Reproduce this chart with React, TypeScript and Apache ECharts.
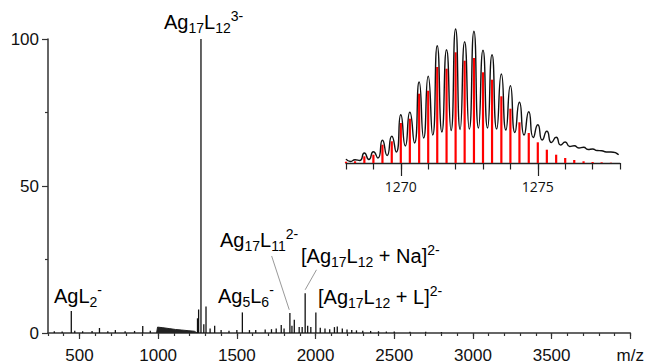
import React, { useEffect, useRef } from "react";
import * as echarts from "echarts";

// Main spectrum: stick peaks (m/z, relative intensity %)
const mainMz = [340, 390, 448, 470, 520, 580, 627, 680, 728, 790, 850, 902, 950, 1250, 1257, 1272, 1290, 1304, 1330, 1359, 1400, 1450, 1500, 1535, 1580, 1620, 1680, 1720, 1750, 1782, 1800, 1837, 1850, 1865, 1896, 1915, 1934, 1950, 1970, 2002, 2030, 2060, 2090, 2120, 2138, 2170, 2200, 2230, 2260, 2300, 2350, 2400, 2450, 2500, 2600, 2700, 2800];
const mainInt = [0.6, 0.5, 7.5, 0.8, 0.6, 0.7, 1.7, 0.6, 1.0, 0.6, 0.7, 2.4, 0.8, 5, 8, 100, 3, 9, 1.5, 2.5, 1, 0.8, 1, 7, 1, 1, 1.2, 1.3, 1.5, 2.7, 1.5, 6.8, 2.5, 4.5, 2, 2, 13.5, 2.5, 2, 7, 1.8, 1.5, 1.3, 2, 2.2, 1.5, 1.2, 1.0, 0.9, 0.8, 0.7, 0.6, 0.5, 0.5, 0.4, 0.4, 0.3];

// Raised baseline hump between 1000 and 1250
const humpMz = [990, 996, 1030, 1070, 1110, 1150, 1190, 1230, 1248];
const humpInt = [0, 2.0, 1.8, 1.5, 1.2, 1.0, 0.8, 0.6, 0];

// Main axis ticks
const mainMajorTicks = [500, 1000, 1500, 2000, 2500, 3000, 3500, 4000];

// Inset: isotope pattern of Ag17L12 3-
const insetMz = [1268.0, 1268.33, 1268.67, 1269.0, 1269.33, 1269.67, 1270.0, 1270.33, 1270.67, 1271.0, 1271.33, 1271.67, 1272.0, 1272.33, 1272.67, 1273.0, 1273.33, 1273.67, 1274.0, 1274.33, 1274.67, 1275.0, 1275.33, 1275.67, 1276.0, 1276.33, 1276.67, 1277.0, 1277.33, 1277.67];
const simulatedInt = [1.3, 1.7, 6.7, 8.3, 18.3, 21.7, 40, 44.3, 69.3, 72.3, 96, 94.3, 110.7, 102.3, 105, 90.7, 83.3, 66.7, 54.3, 40.7, 30, 20.7, 13.3, 8.3, 5, 3, 1.7, 1, 0.7, 0.3];
const measuredPeakInt = [4, 3.3, 10, 11.3, 22.7, 26.7, 48.3, 50.7, 81, 86.7, 117.3, 113.3, 134, 121.3, 131.7, 112.7, 108.3, 89, 77.3, 60.7, 51.3, 38.3, 31.7, 25.7, 21, 17.3, 15.7, 14, 12.3, 11];
const measuredValleyInt = [1.5, 2.5, 3.5, 5, 7.5, 11, 17, 20, 25, 28, 31, 32.5, 33.5, 34, 35, 35, 34, 33, 30.5, 28, 25.5, 23, 20.5, 18, 16.5, 15, 13.5, 12.5, 11];
const measuredEnd: [number, number] = [1277.95, 8.3];
const insetMajorTicks = [1270, 1275];

const FONT = "'Liberation Sans', Arial, sans-serif";
const AXIS = "#333333";

export default function App() {
  const ref = useRef<HTMLDivElement>(null);

  useEffect(() => {
    if (!ref.current) return;
    const chart = echarts.init(ref.current, undefined, { renderer: "svg" });

    const mainData = mainMz.map((m, i) => [m, mainInt[i]]);
    const humpData = humpMz.map((m, i) => [m, humpInt[i]]);
    const redData = insetMz.map((m, i) => [m, simulatedInt[i]]);
    const blackData: number[][] = [];
    insetMz.forEach((m, i) => {
      blackData.push([m, measuredPeakInt[i]]);
      if (i < measuredValleyInt.length) {
        blackData.push([(m + insetMz[i + 1]) / 2, measuredValleyInt[i]]);
      }
    });
    blackData.push(measuredEnd);

    const rich = {
      a: { fontSize: 20, lineHeight: 26, verticalAlign: "middle", fontFamily: FONT, fill: "#000", color: "#000" },
      s: { fontSize: 14, lineHeight: 14, verticalAlign: "bottom", fontFamily: FONT, fill: "#000", color: "#000" },
      p: { fontSize: 14, lineHeight: 20, verticalAlign: "top", fontFamily: FONT, fill: "#000", color: "#000" },
    };
    const label = (text: string, x: number, y: number) => ({
      type: "text",
      x,
      y,
      silent: true,
      style: { text, rich, align: "left", verticalAlign: "top", fontFamily: FONT, fill: "#000" },
    });

    chart.setOption({
      animation: false,
      backgroundColor: "#fff",
      grid: [
        { left: 48, right: 14, top: 39, bottom: 30 },
        { left: 346, right: 27, top: 23, bottom: 201 },
      ],
      xAxis: [
        {
          gridIndex: 0, type: "value", min: 300, max: 4000, interval: 100,
          axisLine: { lineStyle: { color: AXIS, width: 1.5 } },
          axisTick: { length: 3, lineStyle: { color: AXIS, width: 1.2 } },
          axisLabel: { show: false }, splitLine: { show: false },
        },
        {
          gridIndex: 0, type: "value", position: "bottom", min: 300, max: 4000,
          axisLine: { show: false },
          axisTick: { show: true, customValues: mainMajorTicks, length: 6, lineStyle: { color: AXIS, width: 1.2 } },
          axisLabel: {
            customValues: mainMajorTicks, fontSize: 17, margin: 14, color: "#111", fontFamily: FONT,
            formatter: (v: number) => (v === 4000 ? "m/z" : String(v)),
          },
          splitLine: { show: false },
        },
        {
          gridIndex: 1, type: "value", min: 1268, max: 1278, interval: 1,
          axisLine: { lineStyle: { color: "#222", width: 1.3 } },
          axisTick: { length: 6.5, lineStyle: { color: "#222", width: 1.2 } },
          axisLabel: { show: false }, splitLine: { show: false },
        },
        {
          gridIndex: 1, type: "value", position: "bottom", min: 1268, max: 1278,
          axisLine: { show: false },
          axisTick: { show: true, customValues: insetMajorTicks, length: 13, lineStyle: { color: "#222", width: 1.2 } },
          axisLabel: {
            customValues: insetMajorTicks, fontSize: 14, margin: 16, color: "#111",
            fontFamily: "'Open Sans', 'Noto Sans', sans-serif",
            formatter: (v: number) => String(v),
          },
          splitLine: { show: false },
        },
      ],
      yAxis: [
        {
          gridIndex: 0, type: "value", min: 0, max: 100, interval: 50,
          axisLine: { show: true, lineStyle: { color: AXIS, width: 1.5 } },
          axisTick: { show: true, length: 6, lineStyle: { color: AXIS, width: 1.2 } },
          minorTick: { show: true, splitNumber: 2, length: 3, lineStyle: { color: AXIS, width: 1.2 } },
          axisLabel: { fontSize: 17, margin: 9, color: "#111", fontFamily: FONT },
          splitLine: { show: false }, minorSplitLine: { show: false },
        },
        { gridIndex: 1, type: "value", min: 0, max: 140, show: false, splitLine: { show: false } },
      ],
      series: [
        {
          type: "line", xAxisIndex: 0, yAxisIndex: 0, data: humpData, symbol: "none",
          lineStyle: { color: "#222", width: 1 }, areaStyle: { color: "#222", opacity: 1 },
        },
        {
          type: "bar", xAxisIndex: 0, yAxisIndex: 0, data: mainData, barWidth: 1.3,
          itemStyle: { color: "#111" },
          markLine: {
            silent: true, symbol: ["none", "arrow"], symbolSize: [0, 7],
            lineStyle: { color: "#999", width: 1, type: "solid" },
            label: { show: false },
            data: [
              [{ coord: [1721, 26.2] }, { coord: [1833, 7.9] }],
              [{ coord: [2006, 21.5] }, { coord: [1934, 14.7] }],
            ],
          },
        },
        {
          type: "bar", xAxisIndex: 2, yAxisIndex: 1, data: redData, barWidth: 2.2,
          itemStyle: { color: "#ff0000" },
        },
        {
          type: "line", xAxisIndex: 2, yAxisIndex: 1, data: blackData, symbol: "none",
          smooth: 0.65, lineStyle: { color: "#111", width: 1.4 },
        },
      ],
      graphic: [
        label("{a|Ag}{s|17}{a|L}{s|12}{p|3-}", 164, 9),
        label("{a|AgL}{s|2}{p|-}", 54, 283),
        label("{a|Ag}{s|5}{a|L}{s|6}{p|-}", 218, 283),
        label("{a|Ag}{s|17}{a|L}{s|11}{p|2-}", 220, 227),
        label("{a|[Ag}{s|17}{a|L}{s|12}{a| + Na]}{p|2-}", 301, 243),
        label("{a|[Ag}{s|17}{a|L}{s|12}{a| + L]}{p|2-}", 318, 284),
      ],
    });

    return () => chart.dispose();
  }, []);

  return (
    <div
      ref={ref}
      style={{ position: "fixed", left: 0, top: 0, width: 647, height: 364, background: "#fff" }}
    />
  );
}
